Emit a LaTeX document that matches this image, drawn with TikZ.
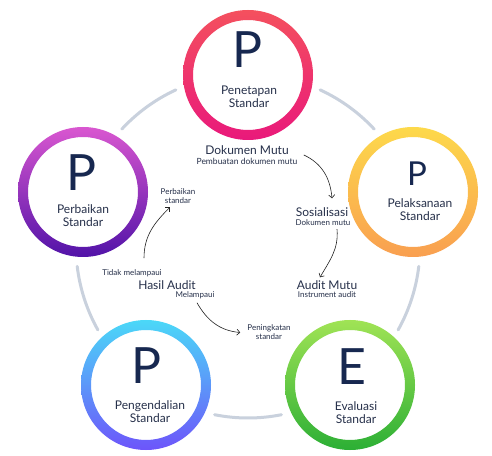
\documentclass[tikz,border=0pt]{standalone}
\usepackage{fontspec}
\setmainfont{Lato}
\usetikzlibrary{arrows.meta,calc}
\definecolor{NavyInk}{HTML}{172850}
\definecolor{LabelInk}{HTML}{26304A}
\definecolor{FlowInk}{HTML}{222222}
\definecolor{LoopGrey}{HTML}{C9D1DD}
\definecolor{PenA}{HTML}{F4505E}
\definecolor{PenB}{HTML}{E9197B}
\definecolor{PelA}{HTML}{FDD94B}
\definecolor{PelB}{HTML}{F99F50}
\definecolor{EvaA}{HTML}{A0E355}
\definecolor{EvaB}{HTML}{2CAF35}
\definecolor{PengA}{HTML}{4BD8F8}
\definecolor{PengB}{HTML}{6D55FA}
\definecolor{PerbA}{HTML}{D957D0}
\definecolor{PerbB}{HTML}{5213A8}

\begin{document}
\begin{tikzpicture}[x=1pt, y=1pt,
  ring/.style={even odd rule, shading angle=45},
  loopline/.style={draw=LoopGrey, line width=3pt, line cap=round},
  letter/.style={font=\fontsize{50}{50}\selectfont, text=NavyInk, inner sep=0pt},
  stage/.style={font=\fontsize{12}{13}\selectfont, text=LabelInk, align=center,
    inner sep=0pt},
  stepname/.style={font=\fontsize{12}{13}\selectfont, text=LabelInk, inner sep=1pt},
  stepnote/.style={font=\fontsize{8}{9}\selectfont, text=LabelInk, align=center,
    inner sep=1pt},
  flow/.style={-{Straight Barb[length=3pt, width=6pt]}, line width=0.6pt, draw=FlowInk},
]
\fill[white] (0,0) rectangle (492,455);
\useasboundingbox (0,0) rectangle (492,455);

% the loop behind the five stages
\coordinate (cen) at (248,209);
\foreach \a [evaluate=\a as \s using \a-24.8, evaluate=\a as \e using \a-47.2]
    in {90,18,-54,-126,-198}
  \draw[loopline] ([shift={(\s:172)}]cen) arc[start angle=\s, end angle=\e, radius=172];

\coordinate (pen)  at (248,380);
\coordinate (pel)  at (413,263);
\coordinate (eva)  at (350,70);
\coordinate (peng) at (146,70);
\coordinate (perb) at (83,263);

\foreach \c in {pen,pel,eva,peng,perb}
  \fill[white] (\c) circle[radius=56];
\shade[ring, top color=PenA, bottom color=PenB]
  (pen) circle[radius=65] (pen) circle[radius=55];
\shade[ring, top color=PelA, bottom color=PelB]
  (pel) circle[radius=65] (pel) circle[radius=55];
\shade[ring, shading angle=30, top color=EvaA, bottom color=EvaB]
  (eva) circle[radius=65] (eva) circle[radius=55];
\shade[ring, shading angle=30, top color=PengA, bottom color=PengB]
  (peng) circle[radius=65] (peng) circle[radius=55];
\shade[ring, top color=PerbA, bottom color=PerbB]
  (perb) circle[radius=65] (perb) circle[radius=55];

\node[letter] (penL)  at (247.5,405) {P};
\node[letter, font=\fontsize{33}{33}\selectfont] (pelL) at (417,281) {P};
\node[letter] (evaL)  at (351.5,88) {E};
\node[letter] (pengL) at (147,89) {P};
\node[letter] (perbL) at (81.5,282) {P};

\node[stage] (penT)  at (249,358.5) {Penetapan\\Standar};
\node[stage] (pelT)  at (420,245.5) {Pelaksanaan\\Standar};
\node[stage] (evaT)  at (356,42.5)  {Evaluasi\\Standar};
\node[stage] (pengT) at (150,43)    {Pengendalian\\Standar};
\node[stage] (perbT) at (83,239.5)  {Perbaikan\\Standar};

% steps inside the loop
\node[stepname] (dok)    at (247,305) {Dokumen Mutu};
\node[stepnote, font=\fontsize{8.5}{9}\selectfont] (doksub) at (247,294) {Pembuatan dokumen mutu};
\node[stepname] (sos)    at (322,243) {Sosialisasi};
\node[stepnote] (sossub) at (323,232) {Dokumen mutu};
\node[stepname] (aud)    at (327,170) {Audit Mutu};
\node[stepnote] (audsub) at (327,160) {Instrument audit};
\node[stepname] (has)    at (167,170) {Hasil Audit};
\node[stepnote] (tidak)  at (132,182) {Tidak melampaui};
\node[stepnote] (melam)  at (195,160) {Melampaui};
\node[stepnote] (perbstd) at (178,258.5) {Perbaikan\\standar};
\node[stepnote] (peningstd) at (269,122.5) {Peningkatan\\standar};

\draw[flow] ([xshift=14pt, yshift=-5pt]dok.east) to[out=-25, in=95]
  ([xshift=10pt, yshift=8pt]sos.north);
\draw[flow] ([xshift=14pt, yshift=-2pt]sossub.south) to[out=-85, in=60]
  ([xshift=-7pt, yshift=2pt]aud.north);
\draw[flow] ([xshift=12pt, yshift=10pt]tidak.north) to[out=90, in=-135]
  ([xshift=-8pt, yshift=-2pt]perbstd.south);
\draw[flow] ([xshift=2pt, yshift=-3pt]melam.south) to[out=-60, in=175]
  ([xshift=-6pt]peningstd.west);
\end{tikzpicture}
\end{document}
